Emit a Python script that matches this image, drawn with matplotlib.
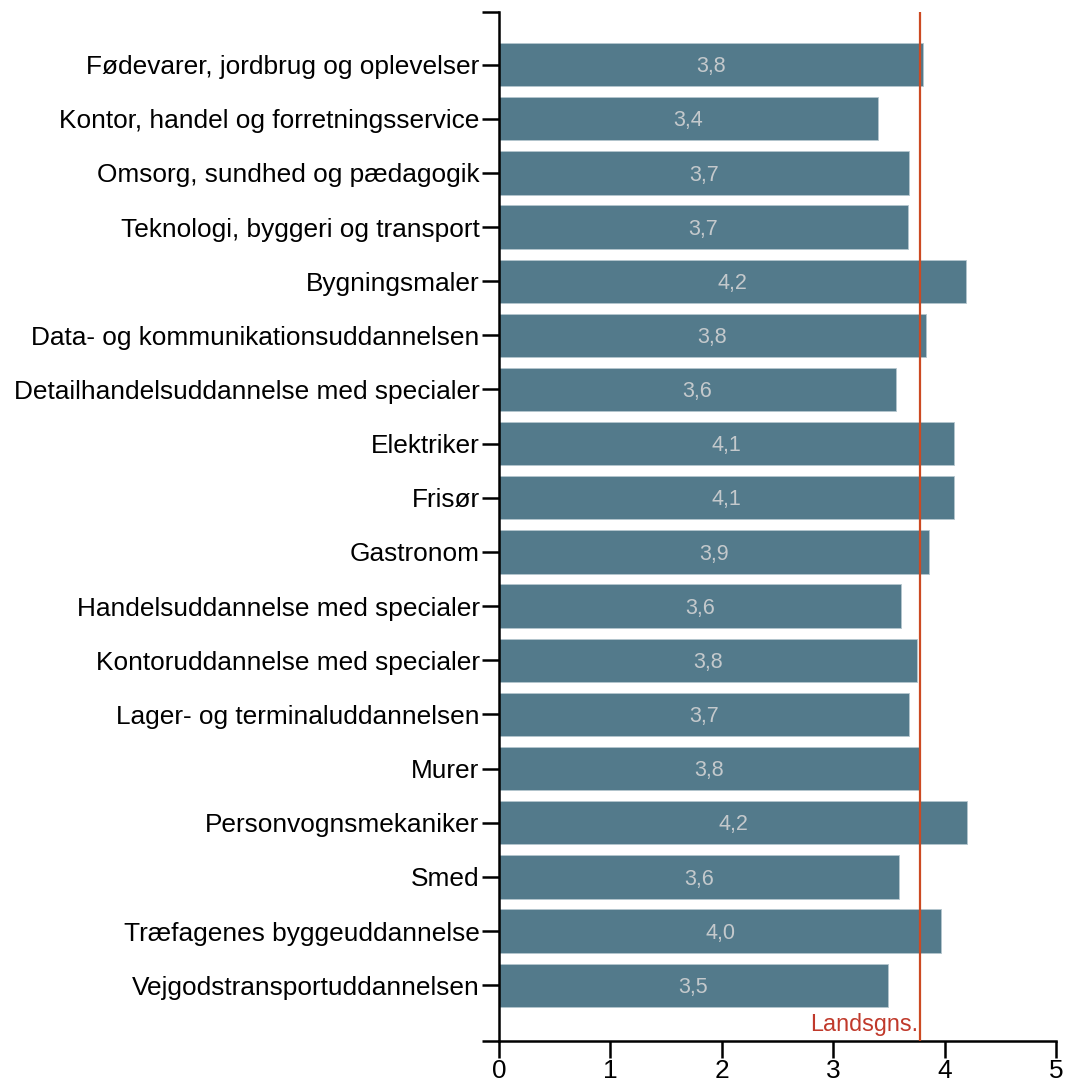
import matplotlib
matplotlib.use("Agg")
from matplotlib import pyplot as plt

# Data
categories = [
    "Fødevarer, jordbrug og oplevelser",
    "Kontor, handel og forretningsservice",
    "Omsorg, sundhed og pædagogik",
    "Teknologi, byggeri og transport",
    "Bygningsmaler",
    "Data- og kommunikationsuddannelsen",
    "Detailhandelsuddannelse med specialer",
    "Elektriker",
    "Frisør",
    "Gastronom",
    "Handelsuddannelse med specialer",
    "Kontoruddannelse med specialer",
    "Lager- og terminaluddannelsen",
    "Murer",
    "Personvognsmekaniker",
    "Smed",
    "Træfagenes byggeuddannelse",
    "Vejgodstransportuddannelsen",
]
values = [3.81, 3.40, 3.68, 3.67, 4.19, 3.83, 3.56, 4.08, 4.08,
          3.86, 3.61, 3.75, 3.68, 3.78, 4.20, 3.59, 3.97, 3.49]
national_avg = 3.78
national_label = "Landsgns."
x_ticks = [0, 1, 2, 3, 4, 5]

plt.rcParams["font.family"] = ["Liberation Sans", "DejaVu Sans"]

W, H = 1067, 1083
fig = plt.figure(figsize=(W / 100, H / 100), dpi=100)
# axes placed in pixel terms
left, right, top, bottom = 499, 1056, 12, 1041
ax = fig.add_axes([left / W, 1 - bottom / H, (right - left) / W, (bottom - top) / H])

bar_color = "#537a8b"
ypos = list(range(len(categories)))
bars = ax.barh(ypos, values, height=0.8, color=bar_color,
               edgecolor="#b5c6ce", linewidth=0.6, zorder=2)

for y, v in zip(ypos, values):
    ax.text(v / 2, y + 0.04, f"{v:.1f}".replace(".", ","), ha="center", va="center",
            color="#c4c9cc", fontsize=15.5, zorder=3)

# national average line
ax.axvline(national_avg, color="#cc4a22", linewidth=1.6, zorder=4)
ax.text(national_avg - 0.015, 17.93, national_label, ha="right", va="bottom",
        color="#c0392b", fontsize=16.8, zorder=4)

ax.set_xlim(0, 5)
ax.set_ylim(18.03, -0.97)

ax.set_xticks(x_ticks)
ax.set_xticklabels([str(t) for t in x_ticks])
# y ticks at each bar plus the axis ends
ax.set_yticks([-0.97] + ypos + [18.03])
ax.set_yticklabels([""] + categories + [""])

for s in ["top", "right"]:
    ax.spines[s].set_visible(False)
for s in ["left", "bottom"]:
    ax.spines[s].set_linewidth(1.8)
    ax.spines[s].set_color("black")

ax.tick_params(axis="both", length=12, width=1.8, color="black",
               labelsize=18.9, labelcolor="black")
ax.tick_params(axis="y", pad=2)
ax.tick_params(axis="x", pad=1)

fig.savefig("out.png", dpi=100)
